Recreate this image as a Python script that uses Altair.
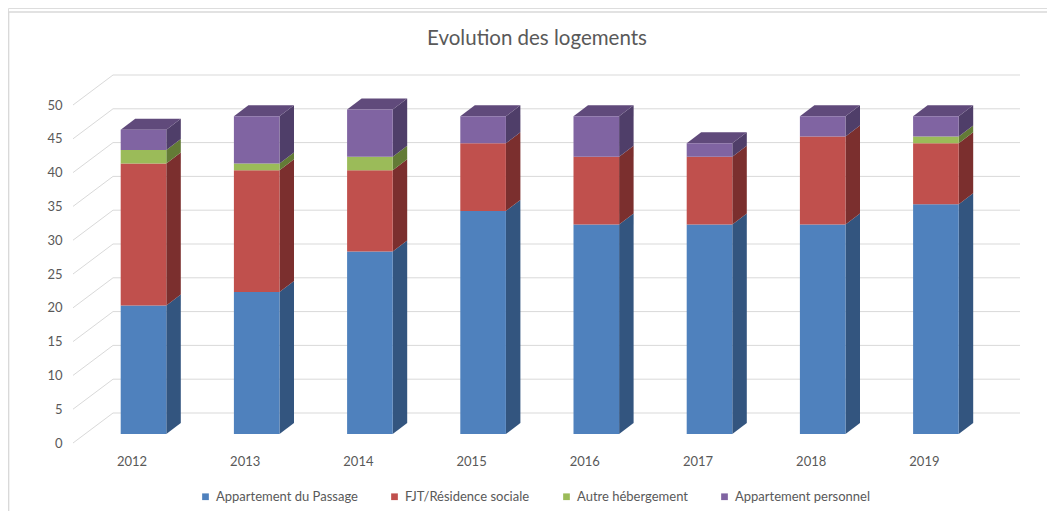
import altair as alt
import pandas as pd

# ---------------- data ----------------
years = ["2012", "2013", "2014", "2015", "2016", "2017", "2018", "2019"]
series = ["Appartement du Passage", "FJT/Résidence sociale", "Autre hébergement", "Appartement personnel"]
appart_passage = [19, 21, 27, 33, 31, 31, 31, 34]
fjt_residence = [21, 18, 12, 10, 10, 10, 13, 9]
autre_hebergement = [2, 1, 2, 0, 0, 0, 0, 1]
appart_personnel = [3, 7, 7, 4, 6, 2, 3, 3]
y_ticks = [0, 5, 10, 15, 20, 25, 30, 35, 40, 45, 50]
title_text = "Evolution des logements"

# ---------------- styles ----------------
front_colors = ["#4F81BD", "#C0504D", "#9BBB59", "#8064A2"]
side_colors = ["#33557F", "#7B2F2E", "#637B36", "#4F3E69"]
top_colors = ["#3E6696", "#9A3D3B", "#7C9645", "#604A7B"]
grid_color = "#D9D9D9"
text_color = "#595959"
FONT = "Lato"

# ---------------- geometry (pixel scale of the pseudo-3D view) ----------------
W, H = 1039, 503
PX_X, X0 = 113.2, 135.5      # px per category step, px of first bar centre
PX_Y, Y0 = 6.76, 426.0       # px per unit, px of value 0 on bar front
x_dom = [-X0 / PX_X, (W - X0) / PX_X]
y_dom = [(Y0 - H) / PX_Y, Y0 / PX_Y]
HW = 22.8 / PX_X             # half width of bar front
DX, DY = 14.5 / PX_X, 11.0 / PX_Y   # bar depth
FLOOR_X, FLOOR_DY = (65 - X0) / PX_X, -9.0 / PX_Y
WALL_X, WALL_DY = (105 - X0) / PX_X, 21.0 / PX_Y
WALL_END = (1012 - X0) / PX_X

values = [appart_passage, fjt_residence, autre_hebergement, appart_personnel]

front_rows, side_rows, top_rows = [], [], []
for i, yr in enumerate(years):
    cum = 0
    last = None
    for k, s in enumerate(series):
        v = values[k][i]
        if v <= 0:
            continue
        b, t = cum, cum + v
        cum = t
        seg = f"{yr}-{k}"
        front_rows.append(dict(year=yr, series=s, x0=i - HW, x1=i + HW, b=b, t=t, value=v))
        side_rows.append(dict(seg=seg, series=s, x=i + HW, y=b, y2=t))
        side_rows.append(dict(seg=seg, series=s, x=i + HW + DX, y=b + DY, y2=t + DY))
        last = (seg, s, t)
    seg, s, t = last
    top_rows.append(dict(seg=seg, series=s, y=t, x=i - HW, x2=i + HW))
    top_rows.append(dict(seg=seg, series=s, y=t + DY, x=i - HW + DX, x2=i + HW + DX))

front_df = pd.DataFrame(front_rows)
side_df = pd.DataFrame(side_rows)
top_df = pd.DataFrame(top_rows)

wall_df = pd.DataFrame(dict(x=[WALL_X] * len(y_ticks), x2=[WALL_END] * len(y_ticks),
                            y=[v + WALL_DY for v in y_ticks]))
diag_df = pd.DataFrame(dict(x=[FLOOR_X] * len(y_ticks), x2=[WALL_X] * len(y_ticks),
                            y=[v + FLOOR_DY for v in y_ticks], y2=[v + WALL_DY for v in y_ticks]))
border_df = pd.DataFrame(dict(x=[x_dom[0], x_dom[0] + 0.6 / PX_X], x2=[x_dom[1], x_dom[0] + 0.6 / PX_X],
                              y=[(Y0 - 4) / PX_Y, (Y0 - 4) / PX_Y], y2=[(Y0 - 4) / PX_Y, y_dom[0]]))
title_df = pd.DataFrame(dict(x=[(529 - X0) / PX_X], y=[(Y0 - 31) / PX_Y], text=[title_text]))

xs = alt.Scale(domain=x_dom, nice=False, zero=False)
ys = alt.Scale(domain=y_dom, nice=False, zero=False)

label_expr = "[" + ",".join(f"'{y}'" for y in years) + "][datum.value]"
X_AX = alt.Axis(values=list(range(len(years))), labelExpr=label_expr, orient="bottom", offset=-50,
                labelPadding=0, labelBaseline="middle", labelOffset=-12, ticks=False, tickSize=0,
                domain=False, grid=False, labelFlush=False, labelOverlap=False, title=None,
                labelFont=FONT, labelFontSize=13, labelColor=text_color)
Y_AX = alt.Axis(values=y_ticks, orient="left", offset=-54, labelPadding=0, labelOffset=9,
                ticks=False, tickSize=0, domain=False, grid=False, labelFlush=False,
                labelOverlap=False, title=None, labelFont=FONT, labelFontSize=13,
                labelColor=text_color)

def X(f):
    return alt.X(f, scale=xs, axis=X_AX, stack=None)

def Y(f):
    return alt.Y(f, scale=ys, axis=Y_AX, stack=None)

border = alt.Chart(border_df).mark_rule(color=grid_color, strokeWidth=1.5).encode(
    x=X("x:Q"), x2="x2:Q", y=Y("y:Q"), y2="y2:Q")

wall = alt.Chart(wall_df).mark_rule(color=grid_color, strokeWidth=1).encode(
    x=X("x:Q"), x2="x2:Q", y=Y("y:Q"))

diag = alt.Chart(diag_df).mark_rule(color=grid_color, strokeWidth=1).encode(
    x=X("x:Q"), x2="x2:Q", y=Y("y:Q"), y2="y2:Q")

side = alt.Chart(side_df).mark_area(orient="vertical", interpolate="linear").encode(
    x=X("x:Q"), y=Y("y:Q"), y2="y2:Q", detail="seg:N",
    color=alt.Color("series:N", scale=alt.Scale(domain=series, range=side_colors), legend=None))

top = alt.Chart(top_df).mark_area(orient="horizontal", interpolate="linear").encode(
    y=Y("y:Q"), x=X("x:Q"), x2="x2:Q", detail="seg:N",
    color=alt.Color("series:N", scale=alt.Scale(domain=series, range=top_colors), legend=None))

front = alt.Chart(front_df).mark_rect().encode(
    x=X("x0:Q"), x2="x1:Q", y=Y("b:Q"), y2="t:Q",
    color=alt.Color("series:N", scale=alt.Scale(domain=series, range=front_colors),
                    legend=alt.Legend(orient="none", legendX=191, legendY=482, direction="horizontal",
                                      columns=4, title=None, symbolType="square", symbolSize=45,
                                      symbolStrokeWidth=0, labelFont=FONT, labelFontSize=13,
                                      labelColor=text_color, columnPadding=30, labelOffset=4,
                                      padding=0, labelLimit=300)),
    tooltip=["year:N", "series:N", "value:Q"])

title = alt.Chart(title_df).mark_text(font=FONT, fontSize=20.5, color=text_color,
                                      align="center", baseline="middle").encode(
    x=X("x:Q"), y=Y("y:Q"), text="text:N")

chart = alt.layer(border, wall, diag, side, top, front, title).resolve_scale(
    color="independent"
).properties(
    width=W, height=H, autosize=alt.AutoSizeParams(type="none"),
    padding={"left": 0, "top": 0, "right": 0, "bottom": 0}
).configure_view(stroke=None).configure(background="white")

chart.save("out.html", embed_options={"renderer": "svg", "actions": False})
